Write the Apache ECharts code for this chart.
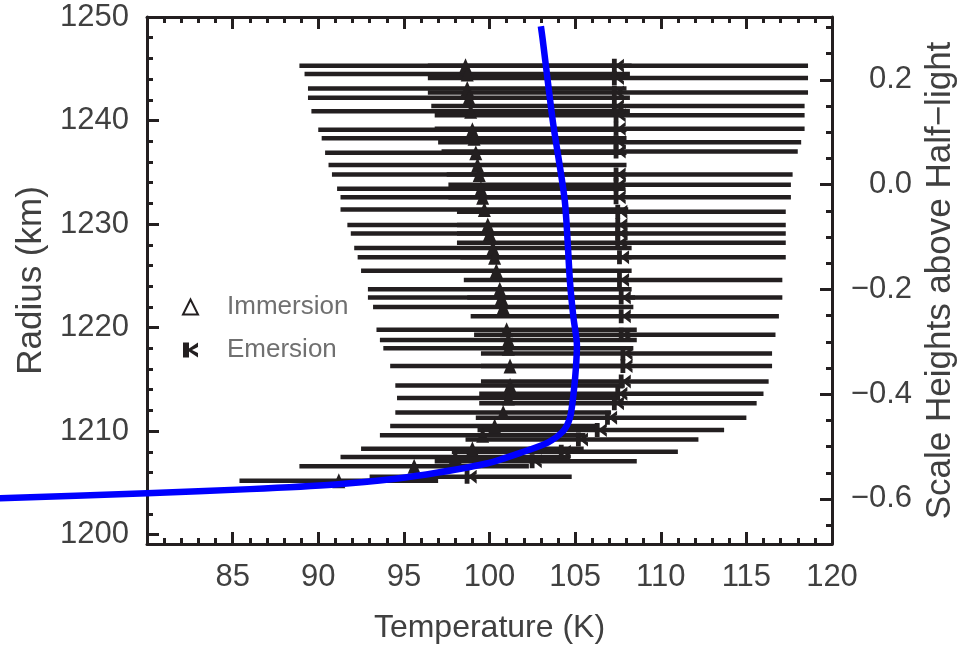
<!DOCTYPE html>
<html>
<head>
<meta charset="utf-8">
<script src="https://cdn.jsdelivr.net/npm/echarts@6/dist/echarts.min.js"></script>
<style>
  html, body { margin: 0; padding: 0; background: #fff; }
  #chart { width: 967px; height: 650px; }
</style>
</head>
<body>
<div id="chart"></div>
<script>
// immersion profile: radius (km), temperature (K), 1-sigma error (K)
const immRadius = [1245.3, 1244.5, 1243.1, 1242.2, 1240.9, 1239.1, 1238.3, 1236.9, 1235.7, 1234.8,
  1233.4, 1232.6, 1231.4, 1229.9, 1229.1, 1227.7, 1226.8, 1225.5, 1223.7, 1222.9,
  1222.0, 1219.8, 1218.8, 1218.0, 1216.3, 1214.4, 1213.2, 1211.8, 1210.5, 1209.6,
  1208.3, 1207.5, 1206.6, 1205.2];
const immTemp = [98.6, 98.7, 98.7, 98.8, 98.9, 99.0, 99.1, 99.2, 99.3, 99.4,
  99.5, 99.6, 99.7, 99.9, 100.0, 100.2, 100.3, 100.4, 100.6, 100.7,
  100.8, 101.0, 101.1, 101.1, 101.2, 101.2, 101.1, 100.8, 100.3, 99.6,
  99.0, 98.0, 95.6, 91.2];
const immErr = [9.7, 9.5, 9.3, 9.4, 9.3, 9.0, 8.9, 8.8, 8.7, 8.6,
  8.4, 8.3, 8.4, 8.2, 8.1, 8.1, 8.0, 7.9, 7.7, 7.8,
  7.6, 7.6, 7.5, 7.3, 7.0, 6.7, 6.5, 6.3, 6.1, 6.0,
  6.5, 6.7, 6.7, 5.8];

// emersion profile
const emRadius = [1245.3, 1244.1, 1242.7, 1241.4, 1240.5, 1239.2, 1237.9, 1237.0, 1234.8, 1233.8,
  1232.6, 1231.2, 1229.9, 1229.1, 1228.2, 1226.8, 1224.6, 1222.9, 1221.1, 1219.3,
  1217.5, 1216.3, 1214.8, 1213.6, 1212.7, 1211.3, 1210.1, 1209.2, 1208.0, 1207.1,
  1205.6];
const emTemp = [107.5, 107.5, 107.5, 107.5, 107.6, 107.6, 107.6, 107.6, 107.6, 107.6,
  107.6, 107.7, 107.7, 107.7, 107.7, 107.8, 107.8, 107.9, 107.9, 107.9,
  108.0, 108.0, 107.9, 107.7, 107.5, 107.1, 106.5, 105.4, 104.4, 102.7,
  98.9];
const emErr = [11.1, 11.1, 11.1, 10.9, 10.8, 10.8, 10.6, 10.4, 10.1, 10.0,
  10.0, 9.6, 9.6, 9.6, 9.6, 9.5, 9.3, 9.2, 9.0, 8.8,
  8.5, 8.5, 8.4, 8.3, 8.1, 7.9, 7.2, 6.8, 6.6, 5.9,
  5.9];

// model profile (blue curve), runs past the left edge of the frame
const modelTemp = [71.0, 80.0, 86.0, 91.0, 94.5, 97.0, 99.9, 101.8, 103.4, 104.3,
  104.7, 104.9, 105.05, 105.1, 104.9, 104.7, 104.4, 103.7, 103.1, 103.0];
const modelRadius = [1203.5, 1204.0, 1204.4, 1204.85, 1205.4, 1206.0, 1206.9, 1207.9, 1208.9, 1210.0,
  1211.3, 1213.5, 1216.2, 1218.5, 1221.0, 1224.4, 1232.2, 1239.9, 1247.9, 1249.1];

// axis ticks
const radiusTicks = [1200, 1210, 1220, 1230, 1240, 1250];
const radiusMinor = [1200, 1202, 1204, 1206, 1208, 1210, 1212, 1214, 1216, 1218, 1220, 1222, 1224,
  1226, 1228, 1230, 1232, 1234, 1236, 1238, 1240, 1242, 1244, 1246, 1248];
const scaleTicks = [-0.6, -0.4, -0.2, 0.0, 0.2];
const scaleMinor = [-0.65, -0.6, -0.55, -0.5, -0.45, -0.4, -0.35, -0.3, -0.25, -0.2, -0.15, -0.1,
  -0.05, 0, 0.05, 0.1, 0.15, 0.2, 0.25, 0.3];

const INK = '#231f20';
const TEXT = '#404040';
const FONT = 'Liberation Sans, Arial, sans-serif';

const immBars = immRadius.map((r, i) => [immTemp[i] - immErr[i], immTemp[i] + immErr[i], r]);
const emBars = emRadius.map((r, i) => [emTemp[i] - emErr[i], emTemp[i] + emErr[i], r]);
const immPts = immRadius.map((r, i) => [immTemp[i], r]);
const emPts = emRadius.map((r, i) => [emTemp[i], r]);
const model = modelRadius.map((r, i) => [modelTemp[i], r]);

const renderBar = (params, api) => {
  const a = api.coord([api.value(0), api.value(2)]);
  const b = api.coord([api.value(1), api.value(2)]);
  return {
    type: 'line',
    shape: { x1: a[0], y1: a[1], x2: b[0], y2: b[1] },
    style: { stroke: INK, lineWidth: 4.5 }
  };
};

// whole curve drawn once, not clipped to the frame
const renderModel = (params, api) => {
  if (params.dataIndex !== model.length - 1) return null;
  const pts = model.map(p => api.coord(p));
  return {
    type: 'polyline',
    shape: { points: pts, smooth: 0.25 },
    style: { stroke: '#0000ff', lineWidth: 6.5, fill: null }
  };
};

const frameLine = { show: true, onZero: false, lineStyle: { color: INK, width: 3 } };
const majorTick = { show: true, inside: true, length: 12, lineStyle: { color: INK, width: 3 } };
const minorTickStyle = { show: true, inside: true, length: 6, lineStyle: { color: INK, width: 3 } };
const labelStyle = { color: TEXT, fontSize: 31, fontFamily: FONT };

const kappa = 'path://M0,0 L4,0 L4,4 L10,0 L10,3 L6,5 L10,7 L10,10 L4,6 L4,10 L0,10 Z';

const chart = echarts.init(document.getElementById('chart'), null, { renderer: 'canvas' });

const option = {
  animation: false,
  backgroundColor: '#fff',
  grid: [
    { left: 147, right: 135, top: 17, bottom: 106 },
    { left: 147, right: 135, top: 17, bottom: 106 }
  ],
  legend: {
    data: [{ name: 'Immersion', icon: 'emptyTriangle' }, { name: 'Emersion' }],
    orient: 'vertical',
    left: 182,
    top: 294,
    padding: 0,
    itemGap: 17,
    itemWidth: 15,
    itemHeight: 15,
    textStyle: { color: '#707070', fontSize: 26, fontFamily: FONT, padding: [0, 0, 0, 24] }
  },
  xAxis: [
    {
      type: 'value', gridIndex: 0, position: 'bottom', min: 80, max: 120, interval: 5,
      axisLine: frameLine, axisTick: majorTick,
      minorTick: { show: true, splitNumber: 5, length: 6, lineStyle: { color: INK, width: 3 } },
      splitLine: { show: false }, minorSplitLine: { show: false },
      axisLabel: Object.assign({ margin: 18, formatter: v => (v === 80 ? '' : String(v)) }, labelStyle),
      name: 'Temperature (K)', nameLocation: 'middle', nameGap: 68,
      nameTextStyle: { color: TEXT, fontSize: 32, fontFamily: FONT }
    },
    {
      type: 'value', gridIndex: 0, position: 'top', min: 80, max: 120, interval: 5,
      axisLine: frameLine, axisTick: majorTick,
      minorTick: { show: true, splitNumber: 5, length: 6, lineStyle: { color: INK, width: 3 } },
      splitLine: { show: false }, axisLabel: { show: false }
    },
    { type: 'value', gridIndex: 1, min: 80, max: 120, show: false }
  ],
  yAxis: [
    {
      type: 'value', gridIndex: 0, position: 'left', min: 1199.1, max: 1250,
      axisLine: frameLine,
      axisTick: Object.assign({ customValues: radiusTicks }, majorTick),
      splitLine: { show: false },
      axisLabel: Object.assign({ margin: 18, customValues: radiusTicks, formatter: v => String(v) }, labelStyle),
      name: 'Radius (km)', nameLocation: 'middle', nameGap: 94, nameRotate: 90,
      nameTextStyle: { color: TEXT, fontSize: 35, fontFamily: FONT }
    },
    {
      type: 'value', gridIndex: 0, position: 'right', min: -0.686, max: 0.32,
      axisLine: frameLine,
      axisTick: Object.assign({ customValues: scaleTicks }, majorTick),
      splitLine: { show: false },
      axisLabel: Object.assign({
        margin: 80, align: 'right', customValues: scaleTicks,
        formatter: v => (v < -1e-9 ? '\u2212' : '') + Math.abs(v).toFixed(1)
      }, labelStyle),
      name: 'Scale Heights above Half\u2212light', nameLocation: 'middle', nameGap: 84, nameRotate: 90,
      nameTextStyle: { color: TEXT, fontSize: 35, fontFamily: FONT }
    },
    {
      type: 'value', gridIndex: 1, position: 'left', min: 1199.1, max: 1250,
      axisLine: { show: false }, splitLine: { show: false }, axisLabel: { show: false },
      axisTick: Object.assign({ customValues: radiusMinor }, minorTickStyle)
    },
    {
      type: 'value', gridIndex: 1, position: 'right', min: -0.686, max: 0.32,
      axisLine: { show: false }, splitLine: { show: false }, axisLabel: { show: false },
      axisTick: Object.assign({ customValues: scaleMinor }, minorTickStyle)
    }
  ],
  series: [
    {
      name: 'immBars', type: 'custom', xAxisIndex: 0, yAxisIndex: 0,
      renderItem: renderBar, encode: { x: [0, 1], y: 2 }, data: immBars, z: 2
    },
    {
      name: 'emBars', type: 'custom', xAxisIndex: 0, yAxisIndex: 0,
      renderItem: renderBar, encode: { x: [0, 1], y: 2 }, data: emBars, z: 2
    },
    {
      name: 'Immersion', type: 'scatter', xAxisIndex: 0, yAxisIndex: 0,
      symbol: 'triangle', symbolSize: [13, 15],
      itemStyle: { color: INK, opacity: 1 },
      data: immPts, z: 3
    },
    {
      name: 'Emersion', type: 'scatter', xAxisIndex: 0, yAxisIndex: 0,
      symbol: kappa, symbolSize: [12, 14],
      itemStyle: { color: INK, opacity: 1 },
      data: emPts, z: 3
    },
    {
      name: 'model', type: 'custom', xAxisIndex: 0, yAxisIndex: 0,
      renderItem: renderModel, encode: { x: 0, y: 1 }, data: model, clip: false, z: 5
    }
  ]
};

chart.setOption(option);
</script>
</body>
</html>
